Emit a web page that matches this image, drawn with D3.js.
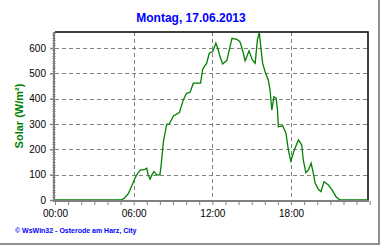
<!DOCTYPE html>
<meta charset="utf-8">
<html>
<head>
<script src="https://cdn.jsdelivr.net/npm/d3@7"></script>
<style>
  body { margin: 0; background: #fff; }
  .tick text { font: 10px "Liberation Sans", Arial, sans-serif; fill: #000; }
</style>
</head>
<body>
<script>
// readings of the day (time, W/m²)
var times = ["00:00","05:03","05:18","05:36","05:51","06:06","06:18","06:30","06:51","07:00",
  "07:06","07:15","07:24","07:33","07:45","08:00","08:06","08:16","08:31","08:43",
  "09:02","09:29","09:47","10:02","10:18","10:33","11:06","11:16","11:34","11:46",
  "12:02","12:16","12:25","12:35","12:47","13:06","13:30","13:52","14:06","14:18",
  "14:30","14:48","15:03","15:16","15:26","15:35","15:43","15:50","16:01","16:16",
  "16:24","16:32","16:42","16:52","16:58","17:02","17:22","17:37","17:48","17:59",
  "18:15","18:34","18:49","18:56","19:08","19:19","19:32","19:42","19:50","20:05",
  "20:17","20:31","20:51","21:06","21:26","21:44","23:50"];
var solar = [0,0,8,26,55,86,105,118,121,125,
  100,82,100,112,99,99,140,230,299,300,
  332,345,395,421,425,461,461,516,540,579,
  586,619,599,566,537,550,638,634,625,592,
  549,589,553,540,632,661,592,540,507,474,
  434,355,408,401,355,289,293,263,197,154,
  197,237,217,158,108,118,145,105,68,42,
  33,72,59,42,13,0,0];
var xTickLabels = ["00:00","06:00","12:00","18:00"];
var yTicks = [0,100,200,300,400,500,600];

var W = 380, H = 245;
var pL = 55, pR = 368, pT = 32, pB = 200;

var parse = d3.timeParse("%H:%M");
var data = times.map(function(t, i) { return {t: parse(t), v: solar[i]}; });
var day0 = parse("00:00");
var day1 = d3.timeDay.offset(day0, 1);

var svg = d3.select("body").append("svg")
  .attr("width", W).attr("height", H);

var x = d3.scaleTime().domain([day0, day1]).range([pL, pL + 314.7]);
var y = d3.scaleLinear().domain([0, 663]).range([pB, pT]);

// grid
svg.append("g").selectAll("line").data(yTicks.filter(function(d){ return d > 0; }))
  .enter().append("line")
  .attr("x1", pL).attr("x2", pR)
  .attr("y1", function(d){ return Math.round(y(d)) + 0.5; })
  .attr("y2", function(d){ return Math.round(y(d)) + 0.5; })
  .attr("stroke", "#808080").attr("stroke-dasharray", "4,3");

svg.append("g").selectAll("line").data(xTickLabels.slice(1))
  .enter().append("line")
  .attr("x1", function(d){ return Math.round(x(parse(d))) + 0.5; })
  .attr("x2", function(d){ return Math.round(x(parse(d))) + 0.5; })
  .attr("y1", pT).attr("y2", pB)
  .attr("stroke", "#808080").attr("stroke-dasharray", "4,3");

// border top/right
svg.append("path")
  .attr("d", "M" + pL + "," + pT + "H" + pR + "V" + pB)
  .attr("fill", "none").attr("stroke", "#000").attr("stroke-width", 1.5);

// the line
var line = d3.line().x(function(d){ return x(d.t); }).y(function(d){ return y(d.v); });
svg.append("path").datum(data)
  .attr("d", line).attr("fill", "none")
  .attr("stroke", "#008000").attr("stroke-width", 1.3);

// Y axis
var yAxis = svg.append("g").attr("transform", "translate(" + (pL - 1) + ",0)")
  .call(d3.axisLeft(y).tickValues(yTicks).tickSize(4).tickPadding(4));
yAxis.select(".domain").remove();
yAxis.selectAll(".tick line").attr("stroke", "#808080").attr("stroke-width", 1.5);
yAxis.selectAll(".minor").data(d3.range(0, 661, 10)).enter().append("line")
  .attr("x1", -1.5).attr("x2", 1.5)
  .attr("y1", function(d){ return Math.round(y(d)) + 0.5; })
  .attr("y2", function(d){ return Math.round(y(d)) + 0.5; })
  .attr("stroke", "#808080");
svg.append("line").attr("x1", pL - 1).attr("x2", pL - 1)
  .attr("y1", pT).attr("y2", pB + 2)
  .attr("stroke", "#808080").attr("stroke-width", 2);

// X axis
var xAxis = svg.append("g").attr("transform", "translate(0," + (pB + 1) + ")")
  .call(d3.axisBottom(x)
    .ticks(d3.timeMinute.every(90))
    .tickSize(4).tickPadding(5)
    .tickFormat(function(d){
      var s = d3.timeFormat("%H:%M")(d);
      return xTickLabels.indexOf(s) >= 0 && d < day1 ? s : "";
    }));
xAxis.select(".domain").remove();
xAxis.selectAll(".tick line").attr("stroke", "#808080");
svg.append("line").attr("x1", pL - 2).attr("x2", pR + 1)
  .attr("y1", pB + 1).attr("y2", pB + 1)
  .attr("stroke", "#808080").attr("stroke-width", 2);

// title
svg.append("text").attr("x", 191).attr("y", 22)
  .attr("text-anchor", "middle")
  .style("font", "bold 12px 'Liberation Sans', Arial, sans-serif")
  .attr("fill", "#0000ff").text("Montag, 17.06.2013");

// y label
svg.append("text")
  .attr("transform", "translate(23," + ((pT + pB) / 2) + ") rotate(-90)")
  .attr("text-anchor", "middle")
  .style("font", "bold 11px 'Liberation Sans', Arial, sans-serif")
  .attr("fill", "#008000").text("Solar  (W/m²)");

// footer
svg.append("text").attr("x", 15).attr("y", 233)
  .style("font", "bold 7px 'Liberation Sans', Arial, sans-serif")
  .attr("fill", "#0000ff").text("© WsWin32  -  Osterode am Harz, City");

// outer frame right/bottom
svg.append("path").attr("d", "M379,0V244H0")
  .attr("fill", "none").attr("stroke", "#909090").attr("stroke-width", 2);
</script>
</body>
</html>
